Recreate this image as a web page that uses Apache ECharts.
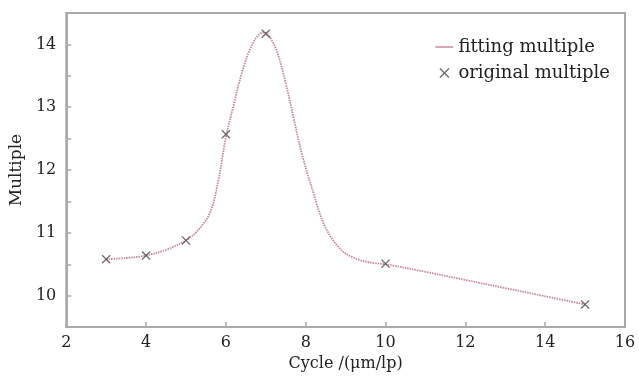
<!DOCTYPE html>
<html>
<head>
<meta charset="utf-8">
<script src="https://cdn.jsdelivr.net/npm/echarts@6/dist/echarts.min.js"></script>
<style>
  html, body { margin: 0; padding: 0; background: #fff; }
  #chart { width: 639px; height: 377px; }
</style>
</head>
<body>
<div id="chart"></div>
<script>
// measured points (Cycle, Multiple)
const originalX = [3, 4, 5, 6, 7, 10, 15];
const originalY = [10.58, 10.64, 10.88, 12.57, 14.17, 10.51, 9.86];

// fitted curve
const fitX = [3, 3.5, 4, 4.5, 5, 5.3, 5.6, 5.8, 6.0, 6.2, 6.4, 6.6, 6.8, 6.95, 7.1, 7.3, 7.5, 7.7, 7.9, 8.2, 8.5, 8.9, 9.3, 9.7, 10, 11, 12, 13, 14, 15];
const fitY = [10.58, 10.60, 10.64, 10.73, 10.88, 11.04, 11.32, 11.8, 12.52, 13.05, 13.55, 13.92, 14.14, 14.19, 14.12, 13.85, 13.38, 12.82, 12.27, 11.62, 11.08, 10.72, 10.58, 10.52, 10.50, 10.38, 10.25, 10.12, 9.99, 9.86];

const xTicks = { min: 2, max: 16, step: 2 };
const yTicks = { min: 9.5, max: 14.5, step: 0.5 };

const fontFam = 'DejaVu Serif';
const axisGray = '#a9a9a9';
const lineColor = '#c98596';
const crossPath = 'path://M1,0L5,4L9,0L10,1L6,5L10,9L9,10L5,6L1,10L0,9L4,5L0,1Z';

const chart = echarts.init(document.getElementById('chart'));
chart.setOption({
  animation: false,
  textStyle: { fontFamily: fontFam, color: '#222' },
  grid: {
    left: 60, right: 14, top: 13, bottom: 49,
    show: true, borderColor: axisGray, borderWidth: 2
  },
  legend: {
    orient: 'vertical',
    right: 24, top: 33,
    itemWidth: 18, itemHeight: 10, itemGap: 8,
    textStyle: { fontFamily: fontFam, fontSize: 18, color: '#222' },
    data: [
      { name: 'fitting multiple', icon: 'path://M0,0h20v1.6h-20z', itemStyle: { color: lineColor } },
      { name: 'original multiple' }
    ]
  },
  xAxis: {
    type: 'value',
    min: xTicks.min, max: xTicks.max, interval: xTicks.step,
    name: 'Cycle /(μm/lp)',
    nameLocation: 'middle', nameGap: 28,
    nameTextStyle: { fontFamily: fontFam, fontSize: 16, color: '#222' },
    axisLine: { lineStyle: { color: axisGray, width: 2 } },
    axisTick: { inside: true, length: 5, lineStyle: { color: axisGray, width: 1.5 } },
    axisLabel: { fontFamily: fontFam, fontSize: 16, color: '#222', margin: 8 },
    splitLine: { show: false }
  },
  yAxis: {
    type: 'value',
    min: yTicks.min, max: yTicks.max, interval: yTicks.step,
    name: 'Multiple',
    nameLocation: 'middle', nameGap: 38, nameRotate: 90,
    nameTextStyle: { fontFamily: fontFam, fontSize: 17, color: '#222' },
    axisLine: { lineStyle: { color: axisGray, width: 2 } },
    axisTick: { inside: true, length: 5, lineStyle: { color: axisGray, width: 1.5 } },
    axisLabel: {
      fontFamily: fontFam, fontSize: 16, color: '#222', margin: 10,
      formatter: v => (Math.abs(v - Math.round(v)) < 1e-6 ? String(Math.round(v)) : '')
    },
    splitLine: { show: false }
  },
  series: [
    {
      name: 'fitting multiple',
      type: 'line',
      smooth: 0.35,
      symbol: 'none',
      data: fitX.map((x, i) => [x, fitY[i]]),
      lineStyle: { color: lineColor, width: 1.8, type: [1.5, 1] },
      itemStyle: { color: lineColor },
      z: 2
    },
    {
      name: 'original multiple',
      type: 'scatter',
      symbol: crossPath,
      symbolSize: 9,
      data: originalX.map((x, i) => [x, originalY[i]]),
      itemStyle: { color: '#4a4a4a' },
      z: 3
    }
  ]
});
</script>
</body>
</html>
